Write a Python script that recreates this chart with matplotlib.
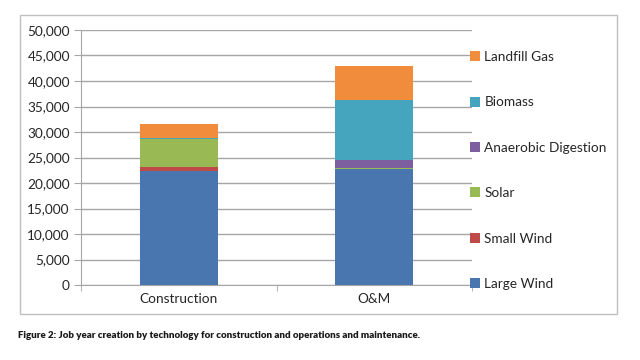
import matplotlib
matplotlib.use('Agg')
import matplotlib.pyplot as plt
from matplotlib.patches import Rectangle
from matplotlib.ticker import FuncFormatter, FixedLocator

plt.rcParams['font.family'] = ['Lato', 'DejaVu Sans']

# stacked job-year values
categories = ['Construction', 'O&M']
technologies = ['Large Wind', 'Small Wind', 'Solar', 'Anaerobic Digestion', 'Biomass', 'Landfill Gas']
large_wind = [22350, 22700]
small_wind = [700, 0]
solar = [5500, 300]
anaerobic = [0, 1500]
biomass = [250, 11800]
landfill = [2700, 6700]
series = [large_wind, small_wind, solar, anaerobic, biomass, landfill]
colors = ['#4A76B0', '#BE4B48', '#98B954', '#7D5FA0', '#46A5BE', '#F08C3C']

fig = plt.figure(figsize=(6.4, 3.6), dpi=100)
fig.patch.set_facecolor('white')

# outer chart border
fig.patches.append(Rectangle((20 / 640, 1 - 314 / 360), 597 / 640, 299 / 360,
                             transform=fig.transFigure, fill=False,
                             edgecolor='#BFBFBF', linewidth=1.0))

ax = fig.add_axes([81 / 640, 1 - 285 / 360, 391 / 640, 255 / 360])
x = range(len(categories))
bottom = [0] * len(categories)
handles = []
for vals, col, name in zip(series, colors, technologies):
    b = ax.bar(x, vals, width=0.4, bottom=bottom, color=col, label=name, zorder=3)
    handles.append(b)
    bottom = [p + v for p, v in zip(bottom, vals)]

ax.set_xlim(-0.5, 1.5)
ax.set_ylim(0, 50000)
ax.set_yticks(range(0, 50001, 5000))
ax.yaxis.set_major_formatter(FuncFormatter(lambda v, p: f'{int(v):,}'))
ax.set_xticks(list(x))
ax.set_xticklabels(categories)
ax.xaxis.set_minor_locator(FixedLocator([-0.5, 0.5, 1.5]))
ax.grid(axis='y', color='#A6A6A6', linewidth=1.0, zorder=0)
for s in ['top', 'right']:
    ax.spines[s].set_visible(False)
for s in ['left', 'bottom']:
    ax.spines[s].set_color('#A6A6A6')
ax.tick_params(axis='y', length=5, color='#A6A6A6', labelsize=9.8, labelcolor='#262626', pad=3)
ax.tick_params(axis='x', which='major', length=0, labelsize=9.8, labelcolor='#262626', pad=6)
ax.tick_params(axis='x', which='minor', length=4, color='#A6A6A6')

leg = ax.legend(handles[::-1], technologies[::-1], loc='center left',
                bbox_to_anchor=(0.995, 0.449), frameon=False, fontsize=9.8,
                handlelength=0.75, handleheight=0.75, handletextpad=0.3,
                labelspacing=2.45, borderaxespad=0, borderpad=0)
for t in leg.get_texts():
    t.set_color('#262626')

fig.text(18 / 640, 1 - 336 / 360,
         'Figure 2: Job year creation by technology for construction and operations and maintenance.',
         fontsize=7.0, fontweight='heavy', color='#1a1a1a', va='center')

fig.savefig('out.png', dpi=100, facecolor='white')
